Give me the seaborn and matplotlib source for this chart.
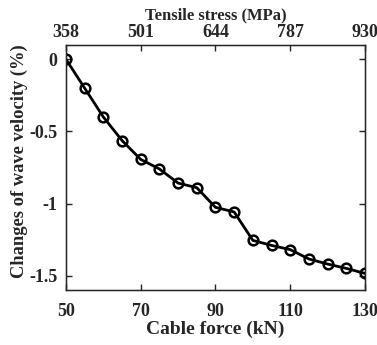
import matplotlib
matplotlib.use("Agg")
import matplotlib.pyplot as plt
import seaborn as sns
import pandas as pd

cable_force = [50, 55, 60, 65, 70, 75, 80, 85, 90, 95, 100, 105, 110, 115, 120, 125, 130]
velocity_change = [0.0, -0.20, -0.40, -0.563, -0.694, -0.76, -0.858, -0.89, -1.026,
                   -1.058, -1.255, -1.29, -1.319, -1.384, -1.419, -1.449, -1.484]
x_ticks = [50, 70, 90, 110, 130]
y_ticks = [0, -0.5, -1, -1.5]
stress_ticks = [358, 501, 644, 787, 930]

sns.set_style("white")
plt.rcParams['font.family'] = ['Liberation Serif', 'DejaVu Serif']
plt.rcParams['font.weight'] = 'bold'
plt.rcParams['axes.unicode_minus'] = False

df = pd.DataFrame({"force": cable_force, "vel": velocity_change})

fig = plt.figure(figsize=(3.77, 3.45), dpi=100)
ax = fig.add_axes([0.175, 0.159, 0.793, 0.711])
sns.lineplot(data=df, x="force", y="vel", ax=ax, color="black", linewidth=2.0,
             marker="o", markersize=7, markerfacecolor="none",
             markeredgecolor="black", markeredgewidth=1.8)
ax.set_xlim(50, 130)
ax.set_ylim(-1.6, 0.1)
ax.set_xticks(x_ticks)
ax.set_xticklabels([str(v) for v in x_ticks])
ax.set_yticks(y_ticks)
ax.set_yticklabels(["0", "-0.5", "-1", "-1.5"])
ax.tick_params(axis="x", direction="in", length=4, width=1, labelsize=13,
               bottom=True, top=False, pad=9)
ax.tick_params(axis="y", direction="in", length=4, width=1, labelsize=13,
               right=True, left=True, pad=6)
ax.set_xlabel("Cable force (kN)", fontsize=14, fontweight="bold", labelpad=1)
ax.set_ylabel("Changes of wave velocity (%)", fontsize=13.3, fontweight="bold")
ax.yaxis.set_label_coords(-0.127, 0.524)
for s in ax.spines.values():
    s.set_color("black")
    s.set_linewidth(1.0)
    s.set_visible(True)

ax2 = ax.twiny()
ax2.set_xlim(358, 930)
ax2.set_xticks(stress_ticks)
ax2.set_xticklabels([str(v) for v in stress_ticks])
ax2.tick_params(axis="x", direction="in", length=4, width=1, labelsize=13, pad=3)
ax2.set_xlabel("Tensile stress (MPa)", fontsize=12, fontweight="bold", labelpad=3)

fig.savefig("out.png", dpi=100)
